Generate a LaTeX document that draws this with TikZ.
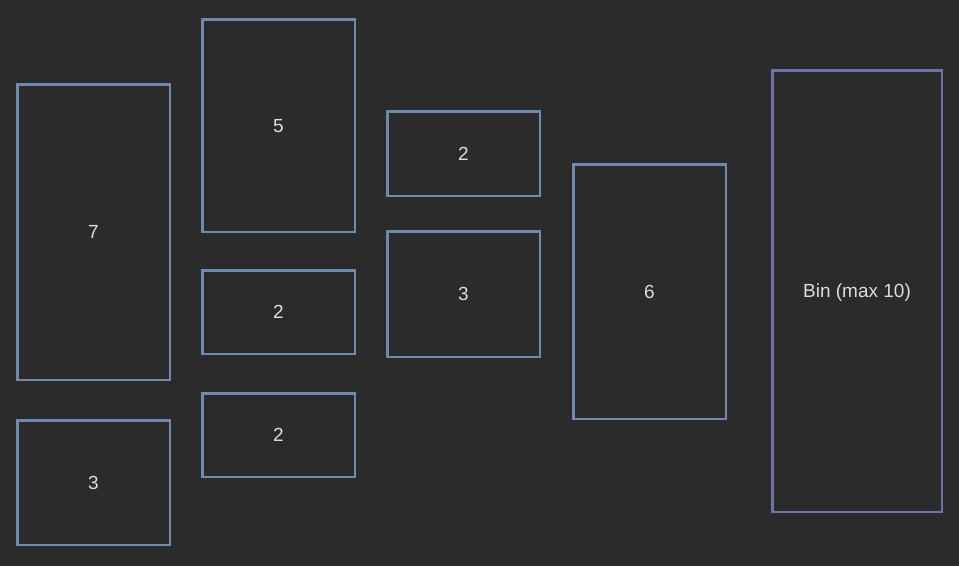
\documentclass[tikz,border=0pt]{standalone}
\usepackage{fontspec}
\setmainfont{Liberation Sans}
\definecolor{bg}{HTML}{2B2B2B}
\definecolor{itemc}{HTML}{6E8AAE}
\definecolor{binc}{HTML}{6E75A6}
\definecolor{txt}{HTML}{DDDDDD}
\begin{document}
\begin{tikzpicture}[x=1pt,y=-1pt,
  item/.style={draw=itemc, line width=2.5pt, rectangle, inner sep=0pt, outer sep=0pt, text=txt, font=\fontsize{19}{21}\selectfont, text depth=0pt, minimum width=152.5pt},
  binbox/.style={item, draw=binc}]
\fill[bg] (0,0) rectangle (959,566);
\useasboundingbox (0,0) rectangle (959,566);
\node[item, minimum height=295.5pt] (i7) at (93.5,232) {7};
\node[item, minimum height=124.5pt] (i3a) at (93.5,482.5) {3};
\node[item, minimum height=212.5pt] (i5) at (278.5,125.5) {5};
\node[item, minimum height=83.5pt] (i2a) at (278.5,312) {2};
\node[item, minimum height=83.5pt] (i2b) at (278.5,435) {2};
\node[item, minimum height=84.5pt] (i2c) at (463.5,153.5) {2};
\node[item, minimum height=125.5pt] (i3b) at (463.5,294) {3};
\node[item, minimum height=254.5pt] (i6) at (649.5,291.5) {6};
\node[binbox, minimum width=169.5pt, minimum height=441.5pt] (bin) at (857,291) {Bin (max 10)};
\end{tikzpicture}
\end{document}
